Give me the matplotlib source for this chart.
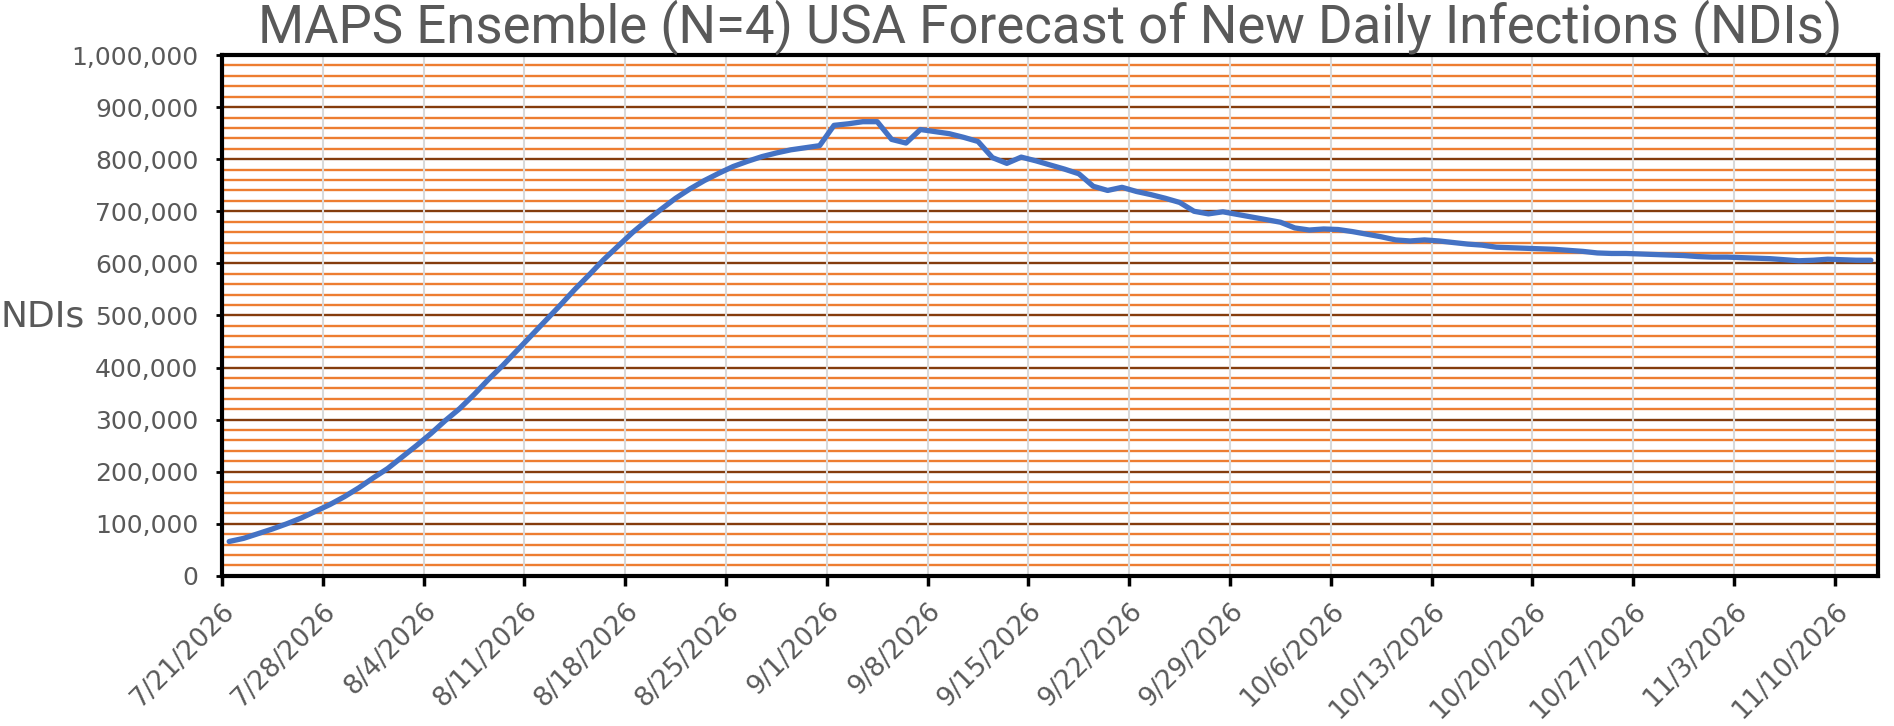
import numpy as np
import pandas as pd
import matplotlib
matplotlib.use('Agg')
import matplotlib.pyplot as plt
from matplotlib.ticker import MultipleLocator, FuncFormatter

# daily values, starting 7/21/2026
start_date = '2026-07-21'
ndis = [66, 72, 81, 90, 100, 111, 124, 137, 152, 169,
        188, 206, 228, 250, 273, 298, 321, 348, 377, 404,
        433, 462, 491, 520, 550, 578, 607, 633, 659, 682,
        704, 725, 743, 759, 773, 786, 796, 805, 812, 818,
        822, 826, 865, 868, 872, 872, 838, 831, 857, 853,
        849, 842, 834, 803, 792, 804, 797, 789, 781, 772,
        748, 740, 746, 738, 732, 725, 717, 700, 695, 699,
        694, 689, 684, 679, 668, 664, 666, 665, 661, 656,
        651, 645, 643, 645, 643, 640, 637, 635, 631, 630,
        629, 628, 627, 625, 623, 620, 619, 619, 618, 617,
        616, 615, 613, 612, 612, 611, 610, 609, 607, 605,
        606, 608, 607, 606, 606]
ndis = np.array(ndis) * 1000

tick_labels = ['7/21/2026', '7/28/2026', '8/4/2026', '8/11/2026', '8/18/2026',
               '8/25/2026', '9/1/2026', '9/8/2026', '9/15/2026', '9/22/2026',
               '9/29/2026', '10/6/2026', '10/13/2026', '10/20/2026', '10/27/2026',
               '11/3/2026', '11/10/2026']

title = 'MAPS Ensemble (N=4) USA Forecast of New Daily Infections (NDIs)'
ylabel = 'NDIs'

dates = pd.date_range(start_date, periods=len(ndis), freq='D')
tick_dates = pd.to_datetime(tick_labels, format='%m/%d/%Y')

text_gray = '#595959'

fig = plt.figure(figsize=(18.94, 7.26), dpi=100)
ax = fig.add_axes([0.1172, 0.2068, 0.8744, 0.7174])

# points sit in the middle of each day (Excel date axis)
ax.plot(dates + pd.Timedelta(hours=12), ndis, color='#4472C4', lw=3.8,
        solid_joinstyle='round', solid_capstyle='round', zorder=3)

ax.set_xlim(dates[0], dates[-1] + pd.Timedelta(days=1))
ax.set_ylim(0, 1000000)

ax.yaxis.set_major_locator(MultipleLocator(100000))
ax.yaxis.set_minor_locator(MultipleLocator(20000))
ax.yaxis.set_major_formatter(FuncFormatter(lambda v, p: f'{int(v):,}'))
ax.set_xticks(tick_dates)
ax.set_xticklabels(tick_labels, rotation=45, ha='right', va='top', rotation_mode='anchor')

ax.grid(which='minor', axis='y', color='#ED7D31', lw=1.7)
ax.grid(which='major', axis='y', color='#843C0C', lw=1.7)
ax.grid(which='major', axis='x', color='#D9D9D9', lw=1.5)
ax.xaxis.set_zorder(1.6)

for s in ax.spines.values():
    s.set_color('black')
    s.set_linewidth(3)

ax.tick_params(axis='y', which='major', length=4, width=2, color='black',
               labelsize=18, labelcolor=text_gray, pad=13)
ax.tick_params(axis='y', which='minor', length=0)
ax.tick_params(axis='x', which='major', length=7, width=2.5, color='black',
               labelsize=19, labelcolor=text_gray, pad=9)

ax.set_title(title, fontsize=38, color=text_gray, family='Roboto', pad=1)
fig.text(0.0, 0.5634, ylabel, fontsize=26, color=text_gray, ha='left', va='center')

fig.savefig('out.png', dpi=100)
